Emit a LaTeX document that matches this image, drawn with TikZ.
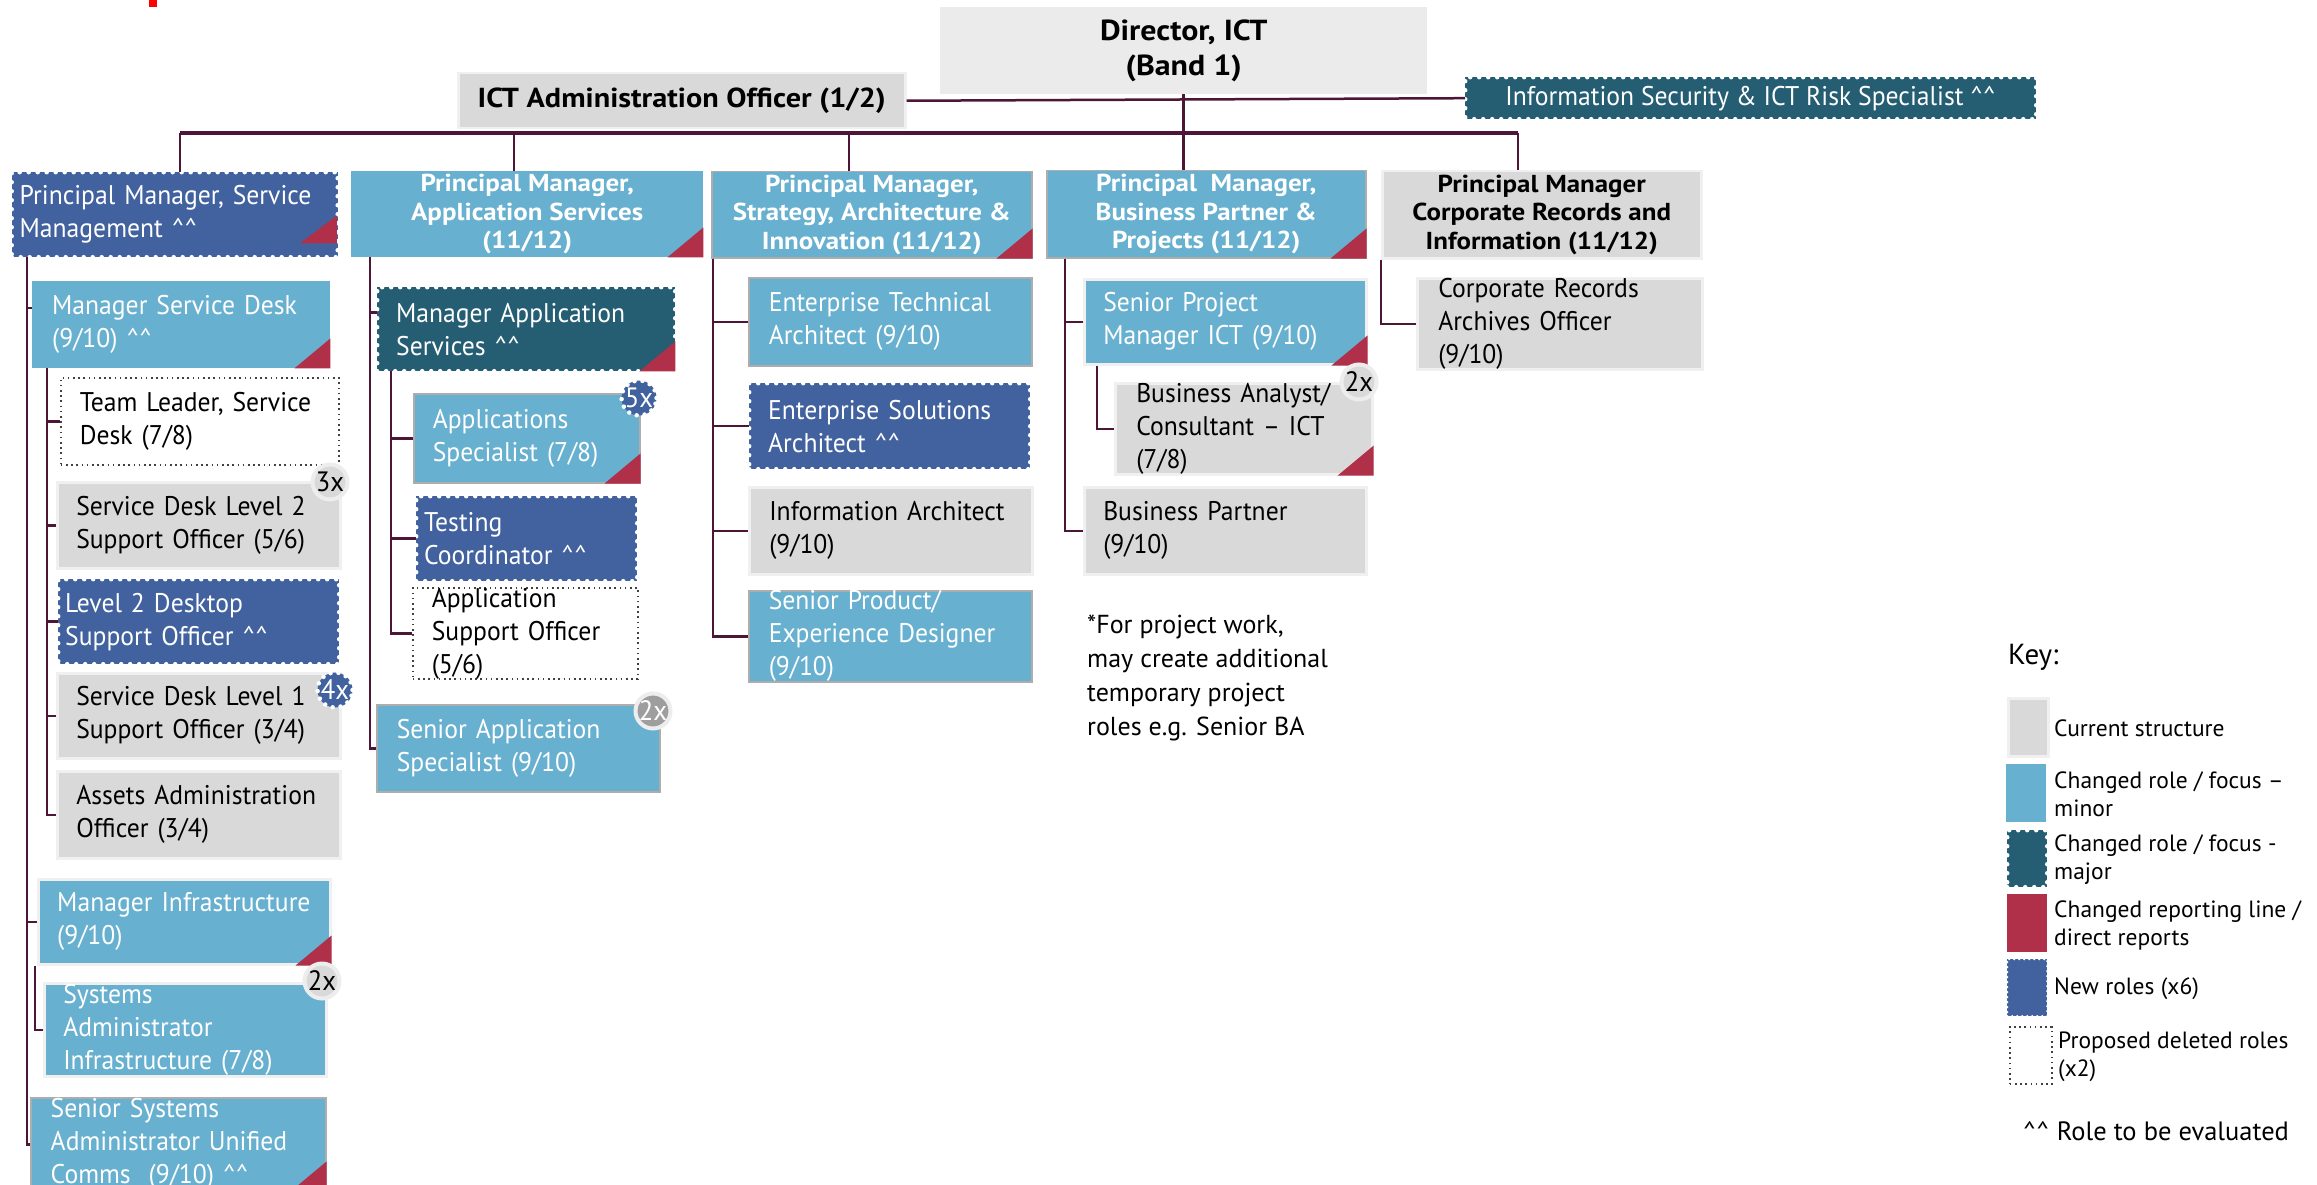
\documentclass[tikz,border=0pt]{standalone}
\usepackage{fontspec}
\setmainfont{PT Sans}
\newfontfamily\cond[FakeStretch=0.95]{PT Sans}
\newfontfamily\bfam[FakeStretch=1.1]{PT Sans}
\usetikzlibrary{calc}
\definecolor{cLB}{RGB}{103,176,207}
\definecolor{cNB}{RGB}{65,98,158}
\definecolor{cTL}{RGB}{37,94,115}
\definecolor{cRD}{RGB}{176,48,74}
\definecolor{cGY}{RGB}{217,217,217}
\definecolor{cLN}{RGB}{78,22,54}
\newcommand\carets{\textasciicircum\textasciicircum}
\newcommand\rtri[1]{\fill[cRD] (#1.south east) -- ++(0,-30) -- ++(-36,30) -- cycle;}
\tikzset{
  B/.style n args={3}{anchor=north west, inner xsep=3pt, inner ysep=0pt,
    minimum width=#1pt, minimum height=#2pt, text width=#1pt-6pt, align=left,
    execute at begin node={\leftskip=#3pt}},
  H/.style 2 args={anchor=north west, inner sep=0pt, minimum width=#1pt,
    minimum height=#2pt, align=center},
  reg/.style={font=\cond\fontsize{27}{33}\selectfont},
  hd/.style={font=\bfam\bfseries\fontsize{24.5}{28.5}\selectfont},
  lf/.style={font=\fontsize{23.5}{28}\selectfont},
  lbA/.style={fill=cLB, draw=black!32, line width=1.5pt, text=white},
  lbB/.style={fill=cLB, draw=black!6, line width=2.5pt, text=white},
  lbN/.style={fill=cLB, text=white},
  gb/.style={fill=cGY, draw=black!6, line width=2.5pt, text=black},
  nbS/.style={fill=cNB, text=white, postaction={draw=white, line width=4.5pt,
    dash pattern=on 0pt off 9pt, line cap=round}},
  tlS/.style={fill=cTL, text=white, postaction={draw=white, line width=4.5pt,
    dash pattern=on 0pt off 9pt, line cap=round}},
  dotb/.style={fill=white, draw=black!75, line width=1.6pt,
    dash pattern=on 1.6pt off 3.6pt, text=black},
  cn/.style={draw=cLN, line width=2.5pt},
  bus/.style={draw=cLN, line width=3.5pt},
  badge/.style={circle, inner sep=0pt, minimum size=35pt,
    font=\cond\fontsize{28}{28}\selectfont},
  gbadge/.style={badge, fill=cGY, draw=black!7, line width=4pt, text=black},
  dbadge/.style={badge, fill=black!38, draw=black!7, line width=4pt, text=white},
  bbadge/.style={badge, fill=cNB, text=white, postaction={draw=white,
    line width=4.5pt, dash pattern=on 0pt off 8pt, line cap=round}},
}
\begin{document}
\begin{tikzpicture}[x=1pt, y=-1pt]
\useasboundingbox (0,0) rectangle (2317,1185);
\fill[white] (0,0) rectangle (2317,1185);
\fill[red] (149,0) rectangle (157,7);

% top level
\node[H={487}{87}, fill=black!8, font=\bfam\bfseries\fontsize{29}{35}\selectfont] (dir) at (940,7) {Director, ICT\\(Band 1)};
\node[H={447}{55}, gb, font=\bfam\bfseries\fontsize{27.5}{33}\selectfont] (adm) at (457,72) {ICT Administration Officer (1/2)};
\node[H={571}{42}, tlS, font=\cond\fontsize{27}{30}\selectfont] (isec) at (1465,77)
  {Information Security \& ICT Risk Specialist \carets};

% principal managers
\node[B={326}{85}{5}, nbS, reg] (psm) at (11.5,172) {Principal Manager, Service\\Management \carets};
\node[H={352}{86}, lbN, hd] (pas) at (351,171) {Principal Manager,\\Application Services\\(11/12)};
\node[H={320}{86}, lbA, hd] (pst) at (711,171) {Principal Manager,\\Strategy, Architecture \&\\Innovation (11/12)};
\node[H={319}{87}, lbA, hd] (pbp) at (1046,170) {Principal~~Manager,\\Business Partner \&\\Projects (11/12)};
\node[H={319}{87}, gb, hd] (pcr) at (1381,170) {Principal Manager\\Corporate Records and\\Information (11/12)};
\fill[cRD] ($(psm.south east)+(-1,-14)$) -- ++(0,-28) -- ++(-37,28) -- cycle;
\rtri{pas} \rtri{pst} \rtri{pbp}

% column 1
\node[B={298}{87}{17}, lbN, reg] (msd) at (32,281) {Manager Service Desk\\(9/10) \carets};
\node[B={278}{87}{16}, dotb, reg] (tld) at (60,377) {Team Leader, Service\\Desk (7/8)};
\node[B={283}{86}{16}, gb, reg] (sd2) at (56,481) {Service Desk Level 2\\Support Officer (5/6)};
\node[B={281}{85}{4}, nbS, reg] (l2d) at (58,579) {Level 2 Desktop\\Support Officer \carets};
\node[B={283}{85}{16}, gb, reg] (sd1) at (56,672) {Service Desk Level 1\\Support Officer (3/4)};
\node[B={283}{87}{16}, gb, reg] (aao) at (56,770) {Assets Administration\\Officer (3/4)};
\node[B={292}{85}{16}, lbB, reg] (minf) at (37,878) {Manager Infrastructure\\(9/10)};
\node[B={282}{93}{16}, lbB, reg] (sai) at (43,982) {Systems\\Administrator\\Infrastructure (7/8)};
\node[B={295}{93}{17}, lbA, reg] (ssuc) at (30,1097) {Senior Systems\\Administrator Unified\\Comms~~(9/10) \carets};
\rtri{msd} \rtri{minf} \rtri{ssuc}
\node[gbadge] (b3) at (330,482) {3x};
\node[bbadge] (b4) at (335,690) {4x};
\node[gbadge] (b2a) at (322,981) {2x};

% column 2
\node[B={298}{84}{16}, tlS, reg] (mas) at (377,287) {Manager Application\\Services \carets};
\node[B={226}{89}{16}, lbA, reg] (aps) at (413,393) {Applications\\Specialist (7/8)};
\node[B={221}{85}{5}, nbS, reg] (tco) at (416,496) {Testing\\Coordinator \carets};
\node[B={225}{88}{16}, dotb, reg] (aso) at (412,587) {Application\\Support Officer\\(5/6)};
\node[B={283}{87}{17}, lbA, reg] (sas) at (376,704) {Senior Application\\Specialist (9/10)};
\rtri{mas} \rtri{aps}
\node[bbadge] (b5) at (639,398) {5x};
\node[dbadge] (b2b) at (653,711) {2x};

% column 3
\node[B={283}{88}{17}, lbA, reg] (eta) at (748,277) {Enterprise Technical\\Architect (9/10)};
\node[B={281}{86}{16}, nbS, reg] (esa) at (749,383) {Enterprise Solutions\\Architect \carets};
\node[B={283}{87}{17}, gb, reg] (ia) at (748,486) {Information Architect\\(9/10)};
\node[B={283}{87}{17}, lbA, reg] (sped) at (748,590) {Senior Product/\\Experience Designer\\(9/10)};

% column 4
\node[B={282}{85}{16}, lbB, reg] (spm) at (1083,278) {Senior Project\\Manager ICT (9/10)};
\node[B={257}{87}{18}, gb, reg] (ba) at (1114,382) {Business Analyst/\\Consultant \textendash\ ICT\\(7/8)};
\node[B={282}{87}{16}, gb, reg] (bp) at (1083,486) {Business Partner\\(9/10)};
\rtri{spm} \rtri{ba}
\node[gbadge] (b2c) at (1359,382) {2x};
\node[anchor=north west, inner sep=0pt, align=left, font=\fontsize{26}{34}\selectfont] (note)
  at (1087,615) {*For project work,\\may create additional\\temporary project\\roles e.g. Senior BA};

% column 5
\node[B={285}{88}{18}, gb, reg] (cra) at (1416,277) {Corporate Records\\Archives Officer\\(9/10)};

% connectors
\coordinate (d1) at (180,133);
\coordinate (d2) at (514,133);
\coordinate (d3) at (849,133);
\coordinate (d5) at (1518,133);
\draw[cn] (adm.east) -- (isec.west);
\draw[bus] (d1) -- (d5);
\draw[cn] (dir.south) -- (dir.south |- pbp.north);
\draw[cn] (d1) -- (d1 |- psm.north);
\draw[cn] (d2) -- (d2 |- pas.north);
\draw[cn] (d3) -- (d3 |- pst.north);
\draw[cn] (d5) -- (d5 |- pcr.north);

\draw[cn] ($(psm.south west)+(15.5,0)$) |- ($(msd.north west)!0.31!(msd.south west)$);
\draw[cn] ($(psm.south west)+(15.5,0)$) |- (minf.west);
\draw[cn] ($(psm.south west)+(15.5,0)$) |- (ssuc.west);
\foreach \c in {tld,sd2,l2d,sd1,aao}
  \draw[cn] ($(msd.south west)+(15,0)$) |- (\c.west);
\draw[cn] ($(minf.south west)+(-2,0)$) |- (sai.west);

\draw[cn] ($(pas.south west)+(19,0)$) |- ($(mas.north west)!0.3!(mas.south west)$);
\draw[cn] ($(pas.south west)+(19,0)$) |- (sas.west);
\foreach \c in {aps,tco,aso}
  \draw[cn] ($(mas.south west)+(14,0)$) |- (\c.west);

\foreach \c in {eta,esa,ia,sped}
  \draw[cn] ($(pst.south west)+(2,0)$) |- (\c.west);

\draw[cn] ($(pbp.south west)+(19,0)$) |- (spm.west);
\draw[cn] ($(pbp.south west)+(19,0)$) |- (bp.west);
\draw[cn] ($(spm.south west)+(14,0)$) |- (ba.west);

\draw[cn] (pcr.south west) |- (cra.west);

% legend
\node[anchor=west, inner sep=0pt, font=\fontsize{29}{32}\selectfont] (key) at (2008,657) {Key:};
\node[anchor=north west, inner sep=0pt, minimum width=40pt, minimum height=58pt, gb] (k1) at (2007,697) {};
\node[anchor=north west, inner sep=0pt, minimum width=40pt, minimum height=58pt, lbN] (k2) at (2006,764) {};
\node[anchor=north west, inner sep=0pt, minimum width=40pt, minimum height=57pt, tlS] (k3) at (2007,830) {};
\node[anchor=north west, inner sep=0pt, minimum width=40pt, minimum height=58pt, fill=cRD] (k4) at (2007,894) {};
\node[anchor=north west, inner sep=0pt, minimum width=40pt, minimum height=57pt, fill=cNB,
  postaction={draw=white, line width=2.5pt, dash pattern=on 0pt off 5pt, line cap=round}] (k5) at (2007,959) {};
\node[anchor=north west, inner sep=0pt, minimum width=42pt, minimum height=57pt, dotb] (k6) at (2009,1026) {};
\node[anchor=west, inner sep=0pt, align=left, lf] (k1t) at (2054,728) {Current structure};
\node[anchor=west, inner sep=0pt, align=left, lf] (k2t) at (2054,794) {Changed role / focus \textendash\\minor};
\node[anchor=west, inner sep=0pt, align=left, lf] (k3t) at (2054,860) {Changed role / focus -\\major};
\node[anchor=west, inner sep=0pt, align=left, lf] (k4t) at (2054,925) {Changed reporting line /\\direct reports};
\node[anchor=west, inner sep=0pt, align=left, lf] (k5t) at (2054,989) {New roles (x6)};
\node[anchor=west, inner sep=0pt, align=left, lf] (k6t) at (2058,1057) {Proposed deleted roles\\(x2)};
\node[anchor=west, inner sep=0pt, font=\fontsize{26.5}{30}\selectfont] (k7) at (2023,1131) {\carets\ Role to be evaluated};
\end{tikzpicture}
\end{document}
